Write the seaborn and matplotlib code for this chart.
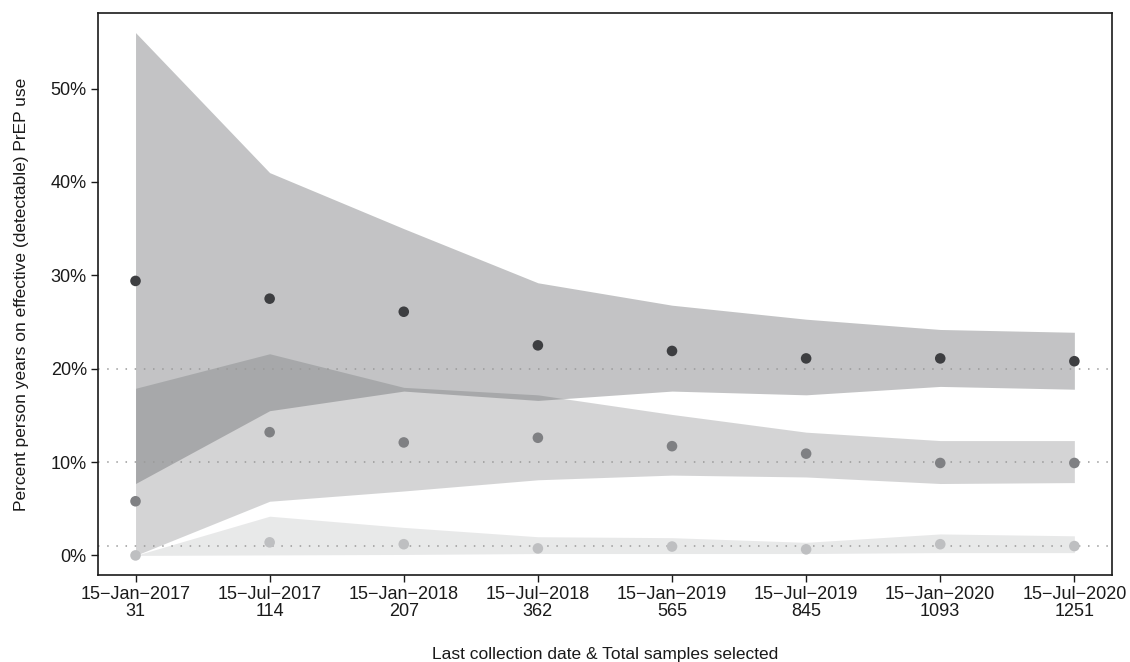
import matplotlib
matplotlib.use("Agg")
import matplotlib.pyplot as plt
import seaborn as sns
import pandas as pd
import numpy as np

# x categories: last collection date + total samples selected
dates = ["15\u2212Jan\u22122017", "15\u2212Jul\u22122017", "15\u2212Jan\u22122018", "15\u2212Jul\u22122018",
         "15\u2212Jan\u22122019", "15\u2212Jul\u22122019", "15\u2212Jan\u22122020", "15\u2212Jul\u22122020"]
samples = [31, 114, 207, 362, 565, 845, 1093, 1251]

# three scenarios (true level 20%, 10%, 1%): estimate + interval
high_est = [29.4, 27.5, 26.1, 22.5, 21.9, 21.1, 21.1, 20.8]
high_lo = [7.7, 15.5, 17.6, 16.6, 17.6, 17.2, 18.1, 17.8]
high_hi = [56.0, 41.0, 35.0, 29.2, 26.8, 25.3, 24.2, 23.9]

mid_est = [5.8, 13.2, 12.1, 12.6, 11.7, 10.9, 9.9, 9.9]
mid_lo = [0.0, 5.8, 6.9, 8.1, 8.6, 8.4, 7.7, 7.8]
mid_hi = [17.9, 21.6, 18.0, 17.2, 15.1, 13.2, 12.3, 12.3]

low_est = [0.0, 1.4, 1.2, 0.75, 0.95, 0.65, 1.2, 1.0]
low_lo = [0.0, 0.05, 0.1, 0.2, 0.2, 0.2, 0.3, 0.3]
low_hi = [0.0, 4.2, 3.0, 2.0, 1.9, 1.4, 2.3, 2.1]

ref_levels = [1, 10, 20]

tick_labels = [f"{d}\n{s}" for d, s in zip(dates, samples)]
x = np.arange(len(dates))

df = pd.concat([
    pd.DataFrame({"x": x, "est": low_est, "lo": low_lo, "hi": low_hi, "series": "low"}),
    pd.DataFrame({"x": x, "est": mid_est, "lo": mid_lo, "hi": mid_hi, "series": "mid"}),
    pd.DataFrame({"x": x, "est": high_est, "lo": high_lo, "hi": high_hi, "series": "high"}),
])

band_colors = {"low": "#c1c2c4", "mid": "#898a8d", "high": "#595b5f"}
point_colors = {"low": "#bebfc1", "mid": "#7f8083", "high": "#3d3e41"}

sns.set_theme(style="white")
plt.rcParams['font.family'] = ['Liberation Sans', 'DejaVu Sans']

fig = plt.figure(figsize=(11.3, 6.62), dpi=100)
ax = fig.add_axes([0.0867, 0.1314, 0.8973, 0.849])

for name in ["low", "mid", "high"]:
    sub = df[df["series"] == name]
    ax.fill_between(sub["x"], sub["lo"], sub["hi"], color=band_colors[name],
                    alpha=0.36, linewidth=0, zorder=1)

for lv in ref_levels:
    ax.axhline(lv, color="#9a9a9a", linestyle=(0, (1, 5)), linewidth=1.1, zorder=2)

sns.scatterplot(data=df, x="x", y="est", hue="series", palette=point_colors,
                s=58, linewidth=0, legend=False, zorder=3, ax=ax)

ax.set_xlim(-0.28, 7.28)
ax.set_ylim(-2.1, 58.1)
ax.set_xticks(x)
ax.set_xticklabels(tick_labels, fontsize=13, color="#1a1a1a", linespacing=1.0)
ax.set_yticks([0, 10, 20, 30, 40, 50])
ax.set_yticklabels(["0%", "10%", "20%", "30%", "40%", "50%"], fontsize=13, color="#1a1a1a")
ax.tick_params(axis="both", direction="out", length=5, width=1, color="#1a1a1a", pad=3, left=True, bottom=True)

ax.set_xlabel("Last collection date & Total samples selected", fontsize=12.5, labelpad=19, color="#1a1a1a")
ax.set_ylabel("Percent person years on effective (detectable) PrEP use", fontsize=12.5, labelpad=16, color="#1a1a1a")

for sp in ax.spines.values():
    sp.set_visible(True)
    sp.set_color("#1a1a1a")
    sp.set_linewidth(1.2)

fig.savefig("out.png", dpi=100)
